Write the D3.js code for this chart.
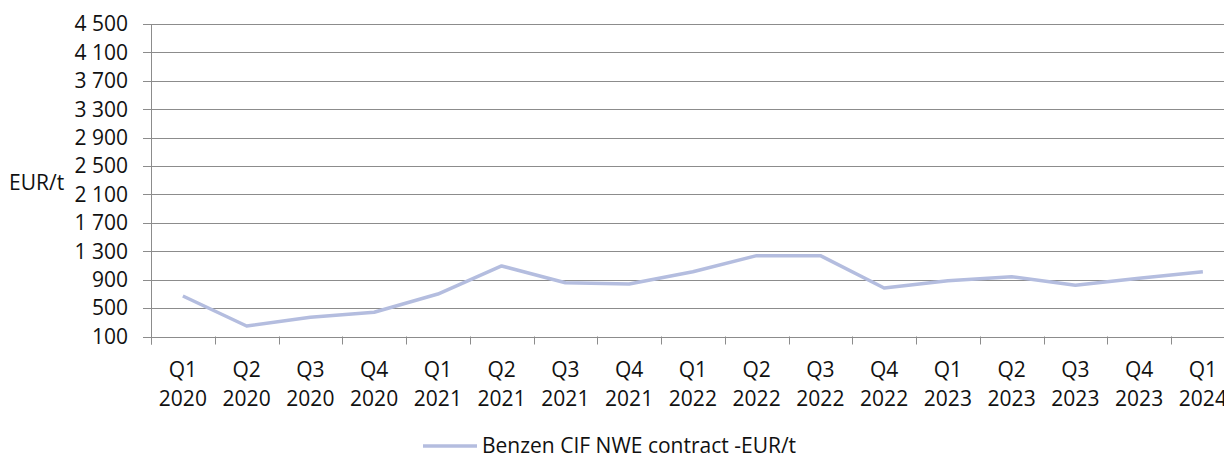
<!DOCTYPE html>
<html>
<head>
<meta charset="utf-8">
<script src="https://cdn.jsdelivr.net/npm/d3@7"></script>
<style>
  body { margin: 0; background: #fff; }
  svg { display: block; font-family: "Open Sans", sans-serif; }
  .label { font-size: 21px; fill: #111; }
</style>
</head>
<body>
<div id="chart"></div>
<script>
var quarters = ["Q1","Q2","Q3","Q4","Q1","Q2","Q3","Q4","Q1","Q2","Q3","Q4","Q1","Q2","Q3","Q4","Q1"]
var years = ["2020","2020","2020","2020","2021","2021","2021","2021","2022","2022","2022","2022","2023","2023","2023","2023","2024"]
var benzen = [670, 248, 370, 441, 698, 1093, 857, 839, 1012, 1238, 1238, 783, 886, 942, 821, 919, 1012]
var yTicks = [100, 500, 900, 1300, 1700, 2100, 2500, 2900, 3300, 3700, 4100, 4500]
var seriesName = "Benzen CIF NWE contract -EUR/t"
var unitLabel = "EUR/t"

var W = 1224, H = 456
var plotLeft = 151, plotTop = 24, plotBottom = 336.5
var bandW = 63.75

var svg = d3.select("#chart").append("svg")
  .attr("width", W)
  .attr("height", H)

var idx = d3.range(benzen.length)
var x = d3.scaleBand().domain(idx).range([plotLeft, plotLeft + bandW * idx.length]).padding(0)
var y = d3.scaleLinear().domain([100, 4500]).range([plotBottom, plotTop])

// horizontal grid + tick marks
svg.append("g")
  .selectAll("line")
  .data(yTicks)
  .enter().append("line")
    .attr("x1", plotLeft - 8)
    .attr("x2", W)
    .attr("y1", function(d){ return Math.round(y(d)) + 0.5 })
    .attr("y2", function(d){ return Math.round(y(d)) + 0.5 })
    .attr("stroke", "#8c8c8c")
    .attr("stroke-width", 1)

svg.append("g")
  .selectAll("text")
  .data(yTicks)
  .enter().append("text")
    .attr("class", "label")
    .attr("x", plotLeft - 23)
    .attr("y", function(d){ return y(d) })
    .attr("dy", "0.35em")
    .attr("text-anchor", "end")
    .text(function(d){ return d3.format(",")(d).replace(/,/g, " ") })

// y axis line
svg.append("line")
  .attr("x1", plotLeft + 0.5).attr("x2", plotLeft + 0.5)
  .attr("y1", plotTop).attr("y2", plotBottom + 8)
  .attr("stroke", "#8c8c8c")

// x tick marks at band edges
svg.append("g")
  .selectAll("line")
  .data(idx.concat([idx.length]))
  .enter().append("line")
    .attr("x1", function(d){ return Math.round(plotLeft + d * x.bandwidth()) + 0.5 })
    .attr("x2", function(d){ return Math.round(plotLeft + d * x.bandwidth()) + 0.5 })
    .attr("y1", plotBottom)
    .attr("y2", plotBottom + 8)
    .attr("stroke", "#8c8c8c")

var xl = svg.append("g")
  .selectAll("text")
  .data(idx)
  .enter().append("text")
    .attr("class", "label")
    .attr("text-anchor", "middle")
    .attr("x", function(d){ return x(d) + x.bandwidth() / 2 })
    .attr("y", 376.5)
xl.append("tspan")
  .attr("x", function(d){ return x(d) + x.bandwidth() / 2 })
  .text(function(d){ return quarters[d] })
xl.append("tspan")
  .attr("x", function(d){ return x(d) + x.bandwidth() / 2 })
  .attr("dy", 29)
  .text(function(d){ return years[d] })

svg.append("text")
  .attr("class", "label")
  .attr("x", 9)
  .attr("y", 183)
  .attr("dy", "0.35em")
  .text(unitLabel)

var line = d3.line()
  .x(function(d, i){ return x(i) + x.bandwidth() / 2 })
  .y(function(d){ return y(d) })

svg.append("path")
  .datum(benzen)
  .attr("d", line)
  .attr("fill", "none")
  .attr("stroke", "#b4bddf")
  .attr("stroke-width", 3.5)
  .attr("stroke-linejoin", "round")

// legend
svg.append("line")
  .attr("x1", 423).attr("x2", 477)
  .attr("y1", 446).attr("y2", 446)
  .attr("stroke", "#b4bddf")
  .attr("stroke-width", 3.5)

svg.append("text")
  .attr("class", "label")
  .attr("x", 482)
  .attr("y", 446)
  .attr("dy", "0.35em")
  .text(seriesName)
</script>
</body>
</html>
